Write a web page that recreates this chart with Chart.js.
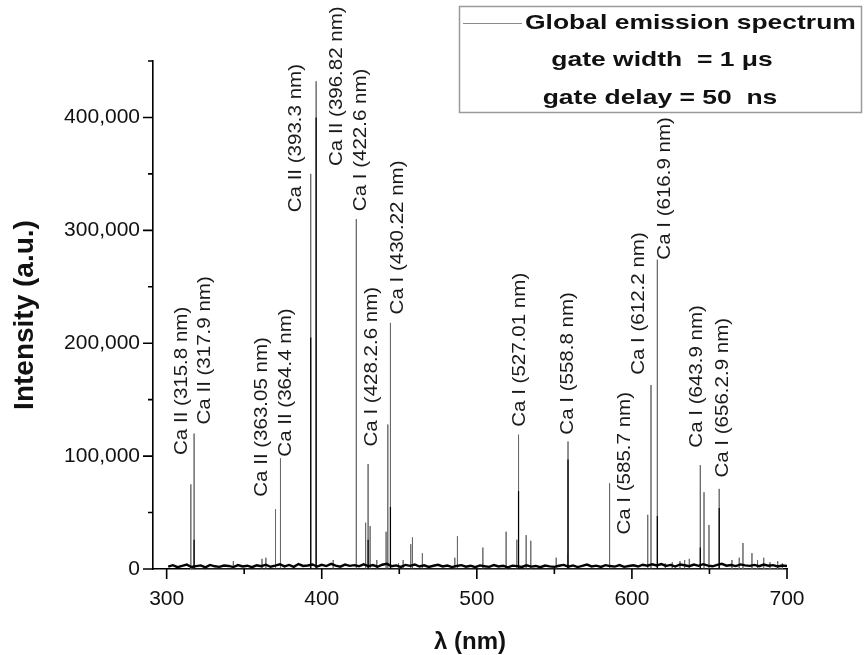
<!DOCTYPE html>
<html>
<head>
<meta charset="utf-8">
<script src="https://cdn.jsdelivr.net/npm/chart.js@4.4.1/dist/chart.umd.min.js"></script>
<style>
  html, body { margin: 0; padding: 0; background: #fff; }
  #wrap { width: 865px; height: 655px; }
</style>
</head>
<body>
<div id="wrap"><canvas id="spectrumChart" width="865" height="655"></canvas></div>
<script>
// ─── Data ───────────────────────────────────────────────────────────────────
// emission lines: wavelength (nm) and peak intensity (a.u.)
const peakNm = [315.6, 317.7, 343, 361.5, 364, 370.2, 373.4, 392.9, 396.4, 407.4,
  422.3, 428.3, 429.9, 431.2, 435.5, 441.5, 442.6, 444.3, 449.5, 452.5,
  457.4, 458.5, 464.9, 485.8, 487.5, 503.9, 518.9, 525.8, 526.9, 531.8,
  534.8, 551.2, 558.5, 558.8, 585.6, 610.2, 612.3, 616.4, 621.5, 626,
  631, 634, 637, 644.1, 646.5, 649.7, 656.3, 664.5, 669.2, 671.6,
  677.4, 681, 685, 689, 694, 697];
const peakInt = [75000, 120000, 7000, 9000, 10000, 53000, 98000, 350000, 432000, 8000,
  310000, 41000, 93000, 38000, 8000, 33000, 128000, 218000, 5000, 8000,
  22000, 28000, 14000, 10000, 29000, 19000, 33000, 26000, 119000, 30000,
  25000, 10000, 14000, 113000, 76000, 48000, 163000, 274000, 5000, 6000,
  7000, 8000, 9000, 92000, 68000, 39000, 71000, 8000, 10000, 23000,
  14000, 8000, 10000, 6000, 7000, 5000];

// darker (overlapping) lower parts of the strong lines
const coreNm = [317.7, 392.9, 396.4, 429.9, 444.3, 526.9, 558.8, 616.4, 644.1, 656.3];
const coreInt = [26000, 205000, 400000, 26000, 55000, 69000, 97000, 47000, 19000, 54000];

// continuum noise, every 3 nm from 301 nm (thousands a.u.)
const baseStart = 301;
const baseStep = 3;
const baseNoise = [
  2.1, 3.4, 1.6, 2.8, 3.9, 1.8, 2.6, 3.2, 1.5, 3.6, 2.4, 1.9, 3.1, 2.7, 1.7, 3.5, 2.2, 2.9, 1.6, 3.3, 2.5,
  3.8, 2.0, 3.0, 4.2, 2.3, 3.6, 1.9, 4.4, 2.7, 3.1, 4.0, 2.2, 3.7, 2.6, 4.5, 3.0, 2.1, 3.9, 2.8, 3.4, 2.4,
  4.1, 2.6, 3.5, 2.0, 3.8, 4.6, 2.5, 3.2, 1.9, 3.6, 2.8, 4.0, 2.2, 3.3, 1.8, 2.9, 3.7, 2.3, 3.1, 1.7, 2.7,
  3.4, 2.0, 2.9, 1.6, 3.2, 2.4, 1.9, 3.5, 2.2, 2.8, 1.5, 3.0, 2.5, 1.8, 3.3, 2.1, 2.7, 1.6, 3.1, 2.3, 1.9,
  2.9, 3.6, 2.0, 3.2, 1.7, 2.8, 3.9, 2.3, 3.0, 1.8, 3.4, 2.6, 2.1, 3.5, 1.9, 2.7, 3.3, 2.2, 3.8, 2.9, 4.2,
  3.1, 4.4, 2.7, 3.6, 2.2, 4.0, 3.3, 2.5, 3.9, 2.8, 4.3, 3.0, 2.4, 3.7, 4.6, 2.9, 3.5, 2.6, 4.1, 3.2, 2.8,
  3.6, 2.5, 3.9, 2.9, 3.4, 2.3, 3.1, 2.6
];

// line annotations: text, anchor wavelength, anchor intensity (start of rotated text)
const lineLabels = ['Ca II (315.8 nm)', 'Ca II (317.9 nm)', 'Ca II (363.05 nm)', 'Ca II (364.4 nm)',
  'Ca II (393.3 nm)', 'Ca II (396.82 nm)', 'Ca I (422.6 nm)', 'Ca I (428.2.6 nm)',
  'Ca I (430.22 nm)', 'Ca I (527.01 nm)', 'Ca I (558.8 nm)', 'Ca I (585.7 nm)',
  'Ca I (612.2 nm)', 'Ca I (616.9 nm)', 'Ca I (643.9 nm)', 'Ca I (656.2.9 nm)'];
const labelNm = [309.9, 324.7, 361.5, 377, 383.4, 409.9, 425.4, 432.5,
  449.2, 527.9, 558.9, 595.7, 604.1, 621.5, 642.1, 658.3];
const labelInt = [101000, 128000, 64000, 99500, 316000, 357000, 317000, 108500,
  225500, 126000, 119000, 30500, 172000, 274000, 107500, 81000];

const xTicks = [300, 400, 500, 600, 700];
const xMinor = [350, 450, 550, 650];
const yTicks = [0, 100000, 200000, 300000, 400000];
const yMinor = [50000, 150000, 250000, 350000, 450000];

const legendLines = ['Global emission spectrum', 'gate width  = 1 \u03bcs', 'gate delay = 50  ns'];

const FONT = "'Liberation Sans', Arial, sans-serif";

// ─── Build point lists ──────────────────────────────────────────────────────
function spikes(nms, vals) {
  const pts = [];
  nms.forEach((nm, i) => {
    pts.push({ x: nm, y: 0 }, { x: nm, y: vals[i] }, { x: nm, y: 0 });
  });
  return pts;
}

const basePoints = baseNoise.map((v, i) => ({ x: baseStart + i * baseStep, y: v * 1000 }));

// ─── Plugins ────────────────────────────────────────────────────────────────
const tickMarks = {
  id: 'tickMarks',
  afterDraw(chart) {
    const { ctx, scales: { x, y }, chartArea } = chart;
    ctx.save();
    ctx.strokeStyle = '#000';
    ctx.lineWidth = 1.6;
    ctx.beginPath();
    xTicks.forEach(v => { const px = x.getPixelForValue(v); ctx.moveTo(px, chartArea.bottom); ctx.lineTo(px, chartArea.bottom + 10); });
    xMinor.forEach(v => { const px = x.getPixelForValue(v); ctx.moveTo(px, chartArea.bottom); ctx.lineTo(px, chartArea.bottom + 5); });
    yTicks.forEach(v => { const py = y.getPixelForValue(v); ctx.moveTo(chartArea.left, py); ctx.lineTo(chartArea.left - 10, py); });
    yMinor.forEach(v => { const py = y.getPixelForValue(v); ctx.moveTo(chartArea.left, py); ctx.lineTo(chartArea.left - 5, py); });
    ctx.stroke();
    ctx.restore();
  }
};

const peakLabels = {
  id: 'peakLabels',
  afterDatasetsDraw(chart) {
    const { ctx, scales: { x, y } } = chart;
    ctx.save();
    ctx.fillStyle = '#1a1a1a';
    ctx.font = '19px ' + FONT;
    ctx.textAlign = 'left';
    ctx.textBaseline = 'middle';
    lineLabels.forEach((t, i) => {
      ctx.save();
      ctx.translate(x.getPixelForValue(labelNm[i]), y.getPixelForValue(labelInt[i]));
      ctx.rotate(-Math.PI / 2);
      ctx.scale(1.08, 1);
      ctx.fillText(t, 0, 0);
      ctx.restore();
    });
    ctx.restore();
  }
};

const legendBox = {
  id: 'legendBox',
  afterDraw(chart) {
    const { ctx } = chart;
    ctx.save();
    ctx.fillStyle = '#fff';
    ctx.fillRect(459, 6, 403, 107);
    ctx.strokeStyle = '#9a9a9a';
    ctx.lineWidth = 1.5;
    ctx.strokeRect(459.5, 6.5, 402, 106);
    ctx.strokeStyle = '#8a8a8a';
    ctx.lineWidth = 1.2;
    ctx.beginPath();
    ctx.moveTo(463, 23.5);
    ctx.lineTo(522, 23.5);
    ctx.stroke();

    ctx.fillStyle = '#111';
    ctx.font = 'bold 21px ' + FONT;
    ctx.textBaseline = 'middle';
    const rows = [
      { x: 525, y: 23, align: 'left' },
      { x: 662, y: 60, align: 'center' },
      { x: 660, y: 98, align: 'center' }
    ];
    legendLines.forEach((t, i) => {
      const r = rows[i];
      ctx.save();
      ctx.translate(r.x, r.y);
      ctx.scale(1.26, 1);
      ctx.textAlign = r.align;
      ctx.fillText(t, 0, 0);
      ctx.restore();
    });
    ctx.restore();
  }
};

// ─── Chart ──────────────────────────────────────────────────────────────────
const ctx = document.getElementById('spectrumChart').getContext('2d');

new Chart(ctx, {
  type: 'scatter',
  data: {
    datasets: [
      {
        label: 'cores',
        data: spikes(coreNm, coreInt),
        showLine: true,
        borderColor: '#000',
        borderWidth: 1.2,
        pointRadius: 0,
      },
      {
        label: 'continuum',
        data: basePoints,
        showLine: true,
        borderColor: '#000',
        borderWidth: 2.4,
        pointRadius: 0,
      },
      {
        label: 'Global emission spectrum',
        data: spikes(peakNm, peakInt),
        showLine: true,
        borderColor: '#6a6a6a',
        borderWidth: 1,
        pointRadius: 0,
      }
    ]
  },
  options: {
    responsive: false,
    animation: false,
    layout: { padding: { left: 0, top: 61, right: 78, bottom: 0 } },
    plugins: {
      legend: { display: false },
      tooltip: { enabled: false }
    },
    scales: {
      x: {
        type: 'linear',
        min: 291.2,
        max: 700,
        afterBuildTicks: s => { s.ticks = xTicks.map(v => ({ value: v })); },
        afterFit: s => { s.height = 86; },
        grid: { display: false, drawTicks: false },
        border: { display: true, color: '#000', width: 1.6 },
        ticks: {
          color: '#111',
          font: { family: FONT, size: 21 },
          padding: 18,
          maxRotation: 0,
          autoSkip: false,
        },
        title: {
          display: true,
          text: '\u03bb (nm)',
          color: '#111',
          font: { family: FONT, size: 24, weight: 'bold', lineHeight: 1.0 },
          padding: { top: 0, bottom: 1 },
        }
      },
      y: {
        min: 0,
        max: 450000,
        afterBuildTicks: s => { s.ticks = yTicks.map(v => ({ value: v })); },
        afterFit: s => { s.width = 153; },
        grid: { display: false, drawTicks: false },
        border: { display: true, color: '#000', width: 1.6 },
        ticks: {
          color: '#111',
          font: { family: FONT, size: 21 },
          padding: 13,
          callback: v => v.toLocaleString('en-US'),
        },
        title: {
          display: true,
          text: 'Intensity (a.u.)',
          color: '#111',
          font: { family: FONT, size: 28, weight: 'bold' },
          padding: { top: 8, bottom: 0 },
        }
      }
    }
  },
  plugins: [tickMarks, peakLabels, legendBox]
});
</script>
</body>
</html>
